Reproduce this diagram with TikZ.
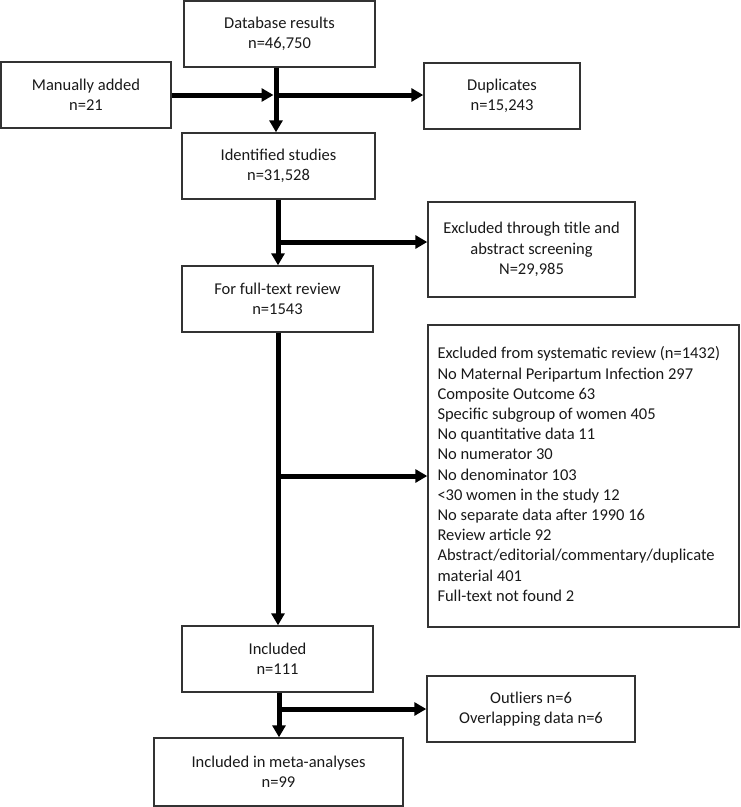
\documentclass[tikz,border=0pt]{standalone}
\usepackage{fontspec}
\setmainfont{Carlito}
\usetikzlibrary{arrows.meta}
\begin{document}
\begin{tikzpicture}[x=1pt,y=-1pt,
  box/.style={draw=black!80, line width=1.4pt, align=center, inner sep=0pt,
    font=\fontsize{16.5}{20.2}\selectfont, text=black!90},
  flow/.style={line width=5pt, -{Triangle[length=12pt,width=13pt]}}]
\useasboundingbox (0,0) rectangle (740,807);

\node[box, minimum width=191pt, minimum height=66pt] (db) at (279.5,34) {Database results\\n=46,750};
\node[box, minimum width=170pt, minimum height=66pt] (man) at (86,95) {Manually added\\n=21};
\node[box, minimum width=156pt, minimum height=66pt] (dup) at (502,96) {Duplicates\\n=15,243};
\node[box, minimum width=193pt, minimum height=66pt] (ident) at (278.5,166) {Identified studies\\n=31,528};
\node[box, minimum width=207pt, minimum height=95pt] (excl1) at (531.5,249.5) {Excluded through title and\\abstract screening\\N=29,985};
\node[box, minimum width=191pt, minimum height=66pt] (full) at (277.5,299) {For full-text review\\n=1543};
\node[box, minimum width=311pt, minimum height=302pt] (excl2) at (583.5,476) {};
\node[anchor=west, inner sep=0pt, font=\fontsize{16.5}{20.2}\selectfont, text=black!90] (excl2text) at ([xshift=10pt]excl2.west)
{\begin{tabular}{@{}l@{}}
Excluded from systematic review (n=1432)\\
No Maternal Peripartum Infection 297\\
Composite Outcome 63\\
Specific subgroup of women 405\\
No quantitative data 11\\
No numerator 30\\
No denominator 103\\
<30 women in the study 12\\
No separate data after 1990 16\\
Review article 92\\
Abstract/editorial/commentary/duplicate\\
material 401\\
Full-text not found 2
\end{tabular}};
\node[box, minimum width=191pt, minimum height=66pt] (incl) at (277.5,659) {Included\\n=111};
\node[box, minimum width=208pt, minimum height=66pt] (out) at (531,709) {Outliers n=6\\Overlapping data n=6};
\node[box, minimum width=249pt, minimum height=68pt] (meta) at (278.5,772) {Included in meta-analyses\\n=99};

\coordinate (t1) at (276,95);
\coordinate (t2) at (278,242);
\coordinate (t3) at (278,476);
\coordinate (t4) at (279,709);

\draw[flow] (db.south -| t1) -- (ident.north -| t1);
\draw[flow] (man.east) -- ([xshift=-2.5pt]t1);
\draw[flow] (t1) -- (dup.west |- t1);

\draw[flow] (ident.south -| t2) -- (full.north -| t2);
\draw[flow] (t2) -- (excl1.west |- t2);

\draw[flow] (full.south -| t3) -- (incl.north -| t3);
\draw[flow] (t3) -- (excl2.west |- t3);

\draw[flow] (incl.south -| t4) -- (meta.north -| t4);
\draw[flow] (t4) -- (out.west |- t4);
\end{tikzpicture}
\end{document}
